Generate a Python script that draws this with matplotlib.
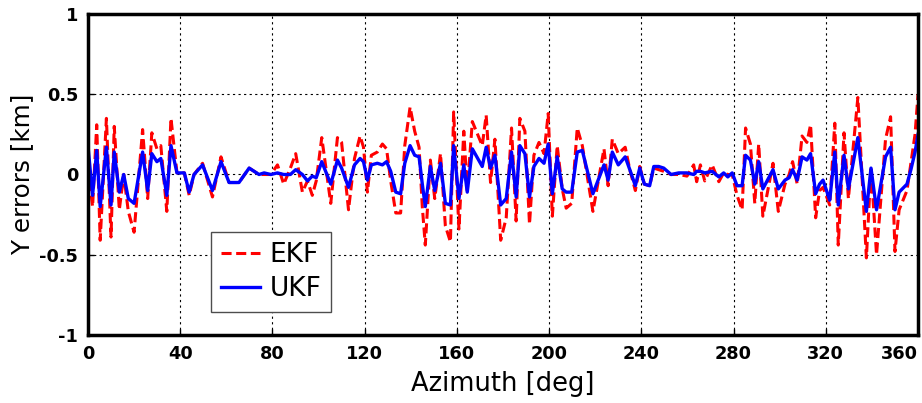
import matplotlib.pyplot as plt

# azimuth samples [deg] and Y errors [km]
azimuth = [0, 2, 3.8, 5.3, 8, 10, 11.4, 13.6, 15.5, 17.5, 20, 23.7, 25.9, 27.7, 29.9, 31.6,
           34.2, 36, 38.6, 41.8, 43.9, 46, 49.7, 54, 57.7, 61.2, 65.5, 69.9, 74.2, 76.4,
           79.3, 82.2, 84.9, 87.8, 90.1, 93, 95.2, 97.3, 99, 101.4, 105.3, 108.2, 110, 113,
           115.6, 118, 119.5, 121.2, 122.9, 125.5, 127.7, 129.5, 131.3, 133.5, 135.6, 137.4,
           139.7, 141.7, 143.6, 145, 146.3, 148.5, 150.4, 152.9, 155, 157.2, 158.6, 160.9,
           163, 164.5, 166.7, 171, 172.7, 174.6, 176.5, 179, 181.4, 183.7, 185.7, 187.3,
           189.5, 191.5, 193.4, 195.6, 197.8, 199.6, 201.4, 203.5, 205.7, 207.4, 209.8,
           212.2, 214.4, 219, 223.8, 225.6, 227.4, 230, 233, 235, 237.4, 239.3, 241.3, 243.6,
           245.4, 247.5, 249.7, 252.9, 256.2, 259.8, 262.7, 264, 265.6, 267.5, 270.7, 273.6,
           275.7, 277.5, 279.4, 281.5, 283.7, 285.2, 287.3, 289.2, 290.9, 292.7, 297.1,
           299.4, 302.3, 304.1, 305.6, 307.6, 309.7, 311.8, 313.4, 315.6, 317.3, 318.8,
           321.7, 323.9, 325.4, 327.9, 329.8, 333.9, 337.6, 339.6, 342, 345.9, 348.1, 350,
           351.8, 355.2, 356.9, 358.7, 360]

ukf = [0.18, -0.13, 0.15, -0.2, 0.17, -0.19, 0.14, -0.11, 0.0, -0.15, -0.18, 0.14, -0.1,
       0.13, 0.08, 0.1, -0.13, 0.18, 0.01, 0.01, -0.11, 0.0, 0.06, -0.1, 0.08, -0.05, -0.05,
       0.04, 0.0, 0.01, 0.0, 0.01, 0.0, 0.0, 0.03, 0.0, -0.04, -0.01, -0.02, 0.08, -0.06,
       0.09, 0.04, -0.08, 0.06, 0.1, 0.08, -0.035, 0.06, 0.07, 0.06, 0.08, 0.02, -0.11,
       -0.12, 0.07, 0.18, 0.12, 0.11, -0.06, -0.2, 0.05, -0.1, 0.07, -0.18, -0.19, 0.18,
       -0.15, 0.06, -0.11, 0.16, 0.05, 0.17, 0.04, 0.12, -0.19, -0.15, 0.14, -0.14, 0.18,
       0.13, -0.14, 0.05, 0.1, 0.07, 0.19, -0.12, 0.11, -0.09, -0.11, -0.11, 0.14, 0.15,
       -0.12, 0.06, -0.035, 0.14, 0.06, 0.11, 0.03, -0.07, 0.04, -0.06, -0.07, 0.05, 0.05,
       0.04, 0.0, 0.01, 0.01, 0.0, 0.02, 0.02, 0.01, 0.02, -0.015, 0.01, -0.015, 0.01,
       -0.07, -0.07, 0.12, 0.09, -0.06, 0.08, -0.09, 0.03, -0.09, -0.035, -0.02, 0.03,
       -0.035, 0.11, 0.09, 0.13, -0.12, -0.06, -0.035, -0.16, 0.14, -0.19, 0.12, -0.09,
       0.23, -0.23, 0.04, -0.22, 0.11, 0.17, -0.22, -0.11, -0.06, 0.03, 0.14, 0.25]

ekf = [0.05, -0.2, 0.31, -0.41, 0.35, -0.39, 0.3, -0.22, 0.0, -0.23, -0.36, 0.28, -0.15,
       0.26, 0.16, 0.18, -0.23, 0.35, 0.01, 0.01, -0.13, 0.0, 0.07, -0.14, 0.11, -0.05, -0.05,
       0.04, 0.0, 0.0, 0.0, 0.06, -0.06, 0.04, 0.13, -0.11, -0.04, -0.13, -0.04, 0.23, -0.18,
       0.23, 0.2, -0.22, 0.1, 0.24, 0.17, -0.11, 0.12, 0.14, 0.19, 0.16, -0.04, -0.24,
       -0.24, 0.18, 0.42, 0.27, 0.17, -0.2, -0.44, 0.09, -0.15, 0.13, -0.32, -0.42, 0.39,
       -0.34, 0.27, -0.1, 0.33, 0.18, 0.37, -0.05, 0.22, -0.41, -0.27, 0.29, -0.29, 0.35,
       0.27, -0.31, 0.12, 0.2, 0.13, 0.38, -0.26, 0.18, -0.09, -0.21, -0.18, 0.29, 0.18,
       -0.23, 0.16, -0.07, 0.22, 0.13, 0.17, 0.03, -0.1, 0.05, -0.06, -0.07, 0.04, 0.03,
       0.02, 0.0, 0.0, -0.01, 0.06, -0.045, 0.06, -0.04, 0.06, -0.045, 0.01, 0.0, 0.0,
       -0.13, -0.22, 0.29, 0.19, -0.18, 0.19, -0.26, 0.07, -0.23, -0.06, 0.0, 0.08,
       -0.06, 0.24, 0.2, 0.31, -0.27, -0.1, -0.08, -0.19, 0.32, -0.44, 0.26, -0.15,
       0.48, -0.52, 0.05, -0.5, 0.22, 0.36, -0.48, -0.22, -0.1, 0.07, 0.25, 0.5]

xticks = [0, 40, 80, 120, 160, 200, 240, 280, 320, 360]
yticks = [-1, -0.5, 0, 0.5, 1]
yticklabels = ['-1', '-0.5', '0', '0.5', '1']

plt.rcParams['font.family'] = ['DejaVu Sans']

fig = plt.figure(figsize=(9.22, 4.03), dpi=100)
ax = fig.add_axes([0.0954, 0.169, 0.9003, 0.796])

ax.plot(azimuth, ekf, color='red', linestyle=(0, (3.3, 1.5)), linewidth=2.2, label='EKF')
ax.plot(azimuth, ukf, color='blue', linestyle='-', linewidth=2.4, label='UKF')

ax.set_xlim(0, 360)
ax.set_ylim(-1, 1)
ax.set_xticks(xticks)
ax.set_yticks(yticks)
ax.set_yticklabels(yticklabels)
for lab in ax.get_xticklabels() + ax.get_yticklabels():
    lab.set_fontweight('bold')
    lab.set_fontsize(12.8)
ax.get_xticklabels()[-1].set_horizontalalignment('right')

ax.grid(True, color='black', linestyle=(0, (2, 3)), linewidth=0.8)
ax.tick_params(direction='in', length=4, width=1, pad=7)
for s in ax.spines.values():
    s.set_linewidth(2.5)

ax.set_xlabel('Azimuth [deg]', fontsize=18.5, labelpad=6)
ax.set_ylabel('Y errors [km]', fontsize=17.7, labelpad=4)

leg = ax.legend(loc='lower left', bbox_to_anchor=(0.148, 0.072), borderaxespad=0,
                fontsize=19, handlelength=1.5, handletextpad=0.35,
                fancybox=False, framealpha=1, edgecolor='0.3',
                borderpad=0.37, labelspacing=0.3)
leg.get_frame().set_linewidth(1.0)

plt.savefig('out.png', dpi=100)
plt.close()
